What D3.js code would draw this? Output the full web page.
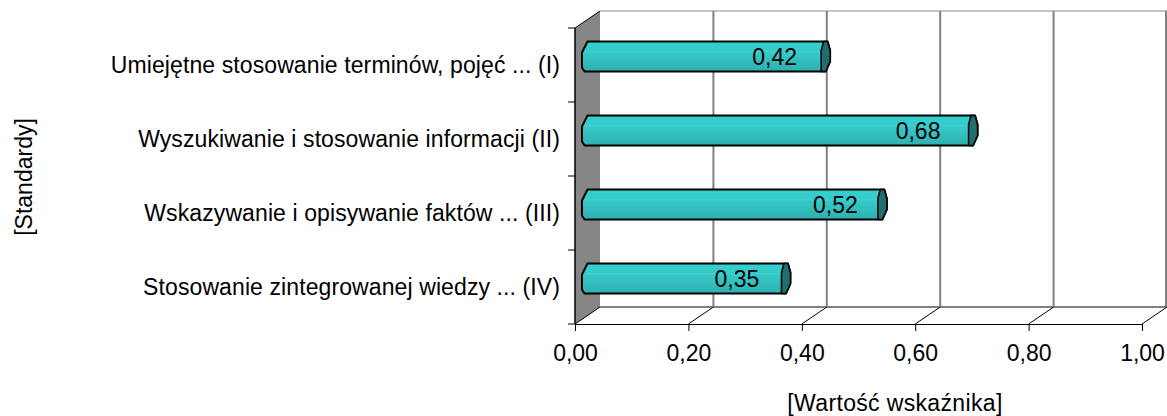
<!DOCTYPE html>
<html><head><meta charset="utf-8">
<script src="https://cdn.jsdelivr.net/npm/d3@7"></script>
<style>html,body{margin:0;padding:0;background:#fff}svg{display:block}text{font-family:"Liberation Sans",Arial,sans-serif;fill:#000}</style>
</head><body><svg id="c" width="1167" height="416"></svg>
<script>
const categories = ["Umiejętne stosowanie terminów, pojęć ... (I)","Wyszukiwanie i stosowanie informacji (II)","Wskazywanie i opisywanie faktów ... (III)","Stosowanie zintegrowanej wiedzy ... (IV)"];
const values = [0.42, 0.68, 0.52, 0.35];
const valueLabels = ["0,42","0,68","0,52","0,35"];
const labelNudge = [0, -4, 4, 2];
const xTicks = [0,0.2,0.4,0.6,0.8,1];
const xTitle = "[Wartość wskaźnika]";
const yTitle = "[Standardy]";

const fs = 23, dx = 25, dy = -17;
const svg = d3.select("#c");
const x = d3.scaleLinear().domain([0,1]).range([575,1142]);
const y = d3.scaleBand().domain(categories).range([28,324]);
const defs = svg.append("defs");
const g = defs.append("linearGradient").attr("id","bar").attr("x1",0).attr("x2",0).attr("y1",0).attr("y2",1);
[[0,"#35cfcf"],[0.33,"#35cbcb"],[0.345,"#62dcdc"],[0.37,"#36c9c9"],[0.65,"#33bebe"],[1,"#2fb0b0"]].forEach(s=>g.append("stop").attr("offset",s[0]).attr("stop-color",s[1]));

const [x0,x1]=x.range(), [yTop,yBot]=y.range();
svg.append("line").attr("x1",x0+dx).attr("x2",x1+dx).attr("y1",yTop+dy).attr("y2",yTop+dy).attr("stroke","#c4c4c4").attr("stroke-width",2);
svg.append("path").attr("d",d3.line()([[x0,yTop],[x0+dx,yTop+dy],[x0+dx,yBot+dy],[x0,yBot]])+"Z").attr("fill","#868686");
xTicks.slice(1).forEach(t=>{
  svg.append("line").attr("x1",x(t)+dx-(t===1?1:0)).attr("x2",x(t)+dx-(t===1?1:0)).attr("y1",yTop+dy).attr("y2",yBot+dy).attr("stroke","#808080").attr("stroke-width",2);
});
svg.append("line").attr("x1",x0+dx).attr("x2",x1+dx).attr("y1",yBot+dy).attr("y2",yBot+dy).attr("stroke","#808080").attr("stroke-width",2);
xTicks.forEach(t=>{
  svg.append("line").attr("x1",x(t)).attr("x2",x(t)+dx).attr("y1",yBot).attr("y2",yBot+dy).attr("stroke","#000").attr("stroke-width",1);
});
svg.append("line").attr("x1",x0).attr("x2",x0+dx).attr("y1",yTop).attr("y2",yTop+dy).attr("stroke","#000").attr("stroke-width",1);

const xAxis = d3.axisBottom(x).tickValues(xTicks).tickSize(7).tickPadding(14).tickSizeOuter(0).tickFormat(d=>d3.format(".2f")(d).replace(".",","));
const gx = svg.append("g").attr("transform",`translate(0,${yBot})`).call(xAxis);
gx.selectAll("text").attr("font-size",fs).style("font-family",'"Liberation Sans"');
gx.selectAll("line,path").attr("stroke","#000");
const yAxis = d3.axisLeft(y).tickSize(0).tickPadding(15);
const gy = svg.append("g").attr("transform",`translate(${x0},0)`).call(yAxis);
gy.selectAll("text").attr("font-size",fs).style("font-family",'"Liberation Sans"').style("letter-spacing","0.1px").attr("transform","translate(0,0.5)");
gy.select("path").remove();
svg.selectAll(".ytick").data(d3.range(categories.length+1)).enter().append("line").attr("class","ytick")
  .attr("x1",x0-7).attr("x2",x0).attr("y1",i=>yTop+i*y.step()).attr("y2",i=>yTop+i*y.step()).attr("stroke","#000");
svg.append("line").attr("x1",x0).attr("x2",x0).attr("y1",yTop).attr("y2",yBot).attr("stroke","#000").attr("stroke-width",1.5);

const h = 30;
const bars = svg.selectAll(".bar").data(categories).enter().append("g").attr("class","bar")
  .attr("transform",c=>`translate(${dx/2},${y(c)+y.bandwidth()/2+dy/2-h/2})`);
bars.append("path").attr("d",(c,i)=>{
  const L=x(0), R=x(values[i]);
  return d3.line()([[L,0],[R+2,0],[R+4.5,9],[R+4.5,20],[R,h],[L-3,h],[L-5.5,26],[L-5.5,11]])+"Z";
}).attr("fill","url(#bar)").attr("stroke","#000").attr("stroke-width",2).attr("stroke-linejoin","round");
bars.append("path").attr("d",(c,i)=>{
  const R=x(values[i]);
  return d3.line()([[R-2,0],[R+2,0],[R+4.5,9],[R+4.5,20],[R,h],[R-4.5,h],[R-4.5,9]])+"Z";
}).attr("fill","#1f6f6e").attr("stroke","#000").attr("stroke-width",1.5).attr("stroke-linejoin","round");
bars.append("text").attr("x",(c,i)=>x(values[i])-51+labelNudge[i]).attr("y",h/2).attr("dy","0.35em").attr("text-anchor","middle").attr("font-size",fs).text((c,i)=>valueLabels[i]);

svg.append("text").attr("x",895).attr("y",411).attr("text-anchor","middle").attr("font-size",fs).style("letter-spacing","0.35px").text(xTitle);
svg.append("text").attr("transform","translate(32,177) rotate(-90)").attr("text-anchor","middle").attr("font-size",fs).text(yTitle);
</script></body></html>
